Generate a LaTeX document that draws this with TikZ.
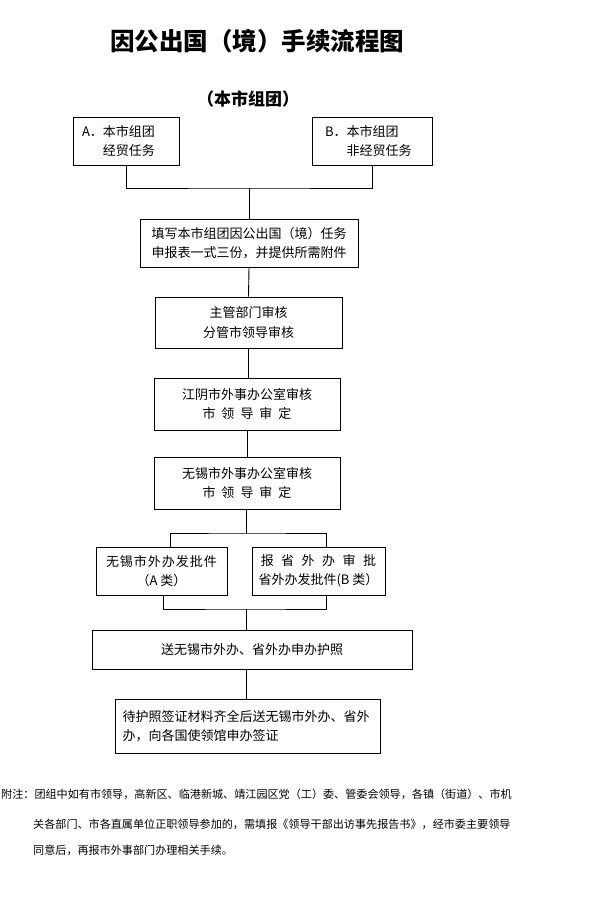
\documentclass[tikz,border=0pt]{standalone}
\usepackage{fontspec}
\setmainfont{Noto Sans CJK SC}
\newcommand{\gp}{\hspace{6pt}}
\newcommand{\gq}{\hspace{7.5pt}}
\newcommand{\gk}{\kern1pt}
\begin{document}
\begin{tikzpicture}[x=1pt,y=-1pt,
  box/.style={draw,line width=0.9pt,align=center,inner sep=0pt,font=\fontsize{13}{19.5}\selectfont},
  conn/.style={line width=0.9pt}]
\useasboundingbox (0,0) rectangle (593,907);
\node[font=\fontsize{24.5}{30}\selectfont\bfseries,inner sep=0pt] (title) at (257,41) {因公出国（境）手续流程图};
\node[font=\fontsize{17}{20}\selectfont\bfseries,inner sep=0pt] (sub) at (248,99) {（本市组团）};

\node[box,minimum height=48pt,text width=88pt,inner xsep=9pt,align=left] (A) at (126,141) {A．本市组团\\\phantom{A．}经贸任务};
\node[box,minimum height=48pt,text width=94pt,inner xsep=13pt,align=left] (B) at (372,141) {B．本市组团\\\phantom{B．}非经贸任务};
\node[box,minimum width=218pt,minimum height=48pt] (fill) at (249,243) {填写本市组团因公出国（境）任务\\申报表一式三份，并提供所需附件};
\node[box,minimum width=187pt,minimum height=51pt] (rev) at (248.5,322.5) {主管部门审核\\分管市领导审核};
\node[box,minimum width=186pt,minimum height=52pt] (jy) at (247,404) {江阴市外事办公室审核\\市\gp 领\gp 导\gp 审\gp 定};
\node[box,minimum width=186pt,minimum height=52pt] (wx) at (247,483) {无锡市外事办公室审核\\市\gp 领\gp 导\gp 审\gp 定};
\node[box,minimum width=131pt,minimum height=48pt] (A7) at (161.5,571) {无\gk 锡\gk 市\gk 外\gk 办\gk 发\gk 批\gk 件\\（A 类）};
\node[box,minimum width=133pt,minimum height=48pt] (B8) at (318.5,571) {报\gq 省\gq 外\gq 办\gq 审\gq 批\\省外办发批件(B 类）};
\node[box,minimum width=320pt,minimum height=39pt] (pp) at (252,649.5) {送无锡市外办、省外办申办护照};
\node[box,minimum height=54pt,text width=250pt,inner xsep=7.5pt,align=left] (visa) at (247.5,726) {待护照签证材料齐全后送无锡市外办、省外\\办，向各国使领馆申办签证};

\coordinate (jAB) at (249,188);
\coordinate (jS) at (246,533);
\coordinate (jM) at (246,609);

\draw[conn] (A.south) |- (jAB) -| (B.south);
\draw[conn] (jAB) -- (fill.north);
\draw[conn] (fill.south) -- (rev.north);
\draw[conn] (rev.south) -- (rev.south |- jy.north);
\draw[conn] (jy.south) -- (wx.north);
\draw[conn] (wx.south -| jS) -- (jS);
\draw[conn] ([xshift=8.5pt]A7.north) |- (jS) -| ([xshift=7.5pt]B8.north);
\draw[conn] ([xshift=1.5pt]A7.south) |- (jM) -| ([xshift=7.5pt]B8.south);
\draw[conn] (jM) -- (jM |- pp.north);
\draw[conn] (jM |- pp.south) -- (jM |- visa.north);

\begin{scope}[every node/.style={anchor=west,inner sep=0pt,font=\fontsize{11.1}{13}\selectfont}]
\node (note1) at (1,794) {附注：团组中如有市领导，高新区、临港新城、靖江园区党（工）委、管委会领导，各镇（街道）、市机};
\node (note2) at (33,824) {关各部门、市各直属单位正职领导参加的，需填报《领导干部出访事先报告书》，经市委主要领导};
\node (note3) at (33,850) {同意后，再报市外事部门办理相关手续。};
\end{scope}
\end{tikzpicture}
\end{document}
